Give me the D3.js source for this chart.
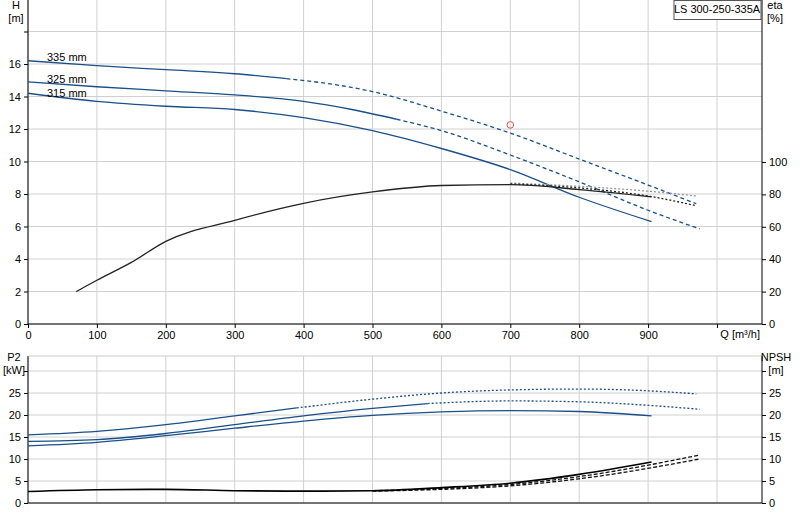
<!DOCTYPE html><html><head><meta charset="utf-8"><script src="https://cdn.jsdelivr.net/npm/d3@7"></script>
<style>body{margin:0;background:#fff}text{font-family:"Liberation Sans",Arial,sans-serif;font-size:11px;fill:#000}</style></head><body><svg id="c" width="800" height="520"></svg><script>
const qTicks=[0,100,200,300,400,500,600,700,800,900];
const hTicks=[0,2,4,6,8,10,12,14,16];
const etaTicks=[0,20,40,60,80,100];
const pTicks=[0,5,10,15,20,25];
const h335=[[0,16.2],[100,15.9],[200,15.65],[300,15.4],[375,15.1]];
const h335d=[[375,15.1],[450,14.7],[500,14.3],[600,13.1],[700,11.75],[800,10.15],[900,8.55],[970,7.4]];
const h325=[[0,14.9],[100,14.6],[200,14.35],[300,14.1],[400,13.7],[470,13.2],[535,12.6]];
const h325d=[[535,12.6],[600,11.9],[700,10.4],[800,8.75],[900,7.0],[975,5.85]];
const h315=[[0,14.2],[100,13.7],[200,13.4],[300,13.2],[400,12.7],[500,11.9],[600,10.8],[700,9.5],[800,7.8],[905,6.3]];
const eta315=[[70,20],[100,27],[150,38],[200,51],[300,64],[400,74.5],[500,81.5],[600,85.5],[700,86],[800,83],[905,78.5]];
const eta325d=[[700,86.5],[800,84],[900,79],[970,73]];
const eta335d=[[700,87],[800,85],[900,82],[970,79]];
const p335=[[0,15.5],[100,16.3],[200,17.8],[300,19.8],[390,21.6]];
const p335d=[[390,21.6],[500,23.6],[600,25.0],[700,25.7],[800,25.9],[900,25.5],[970,24.8]];
const p325=[[0,14.0],[100,14.4],[200,15.8],[300,17.8],[400,19.8],[500,21.5],[580,22.6]];
const p325d=[[580,22.6],[700,23.2],[800,23.0],[900,22.2],[975,21.3]];
const p315=[[0,13.0],[100,13.8],[200,15.3],[300,17.0],[400,18.6],[500,19.9],[600,20.7],[700,21.0],[800,20.8],[905,19.8]];
const npsh315=[[0,2.6],[100,3.0],[200,3.1],[300,2.8],[400,2.7],[500,2.8],[600,3.5],[700,4.5],[800,6.5],[905,9.3]];
const npsh325d=[[500,2.8],[600,3.3],[700,4.2],[800,6.0],[975,10.9]];
const npsh335d=[[500,2.7],[600,3.1],[700,3.9],[800,5.5],[975,10.0]];
const redPt=[700,12.25];
const svg=d3.select("#c");
const x=d3.scaleLinear().domain([0,1000]).range([28,717]);
const XR=762;
const yH=d3.scaleLinear().domain([0,16]).range([324,64]);
const yE=d3.scaleLinear().domain([0,100]).range([324,162]);
const yP=d3.scaleLinear().domain([0,25]).range([503,393]);
const grid="#d0d0d0";
[...qTicks,1000].forEach(q=>svg.append("line").attr("x1",x(q)).attr("x2",x(q)).attr("y1",0).attr("y2",324).attr("stroke",grid));
[...hTicks,18].forEach(h=>svg.append("line").attr("x1",28).attr("x2",XR).attr("y1",yH(h)).attr("y2",yH(h)).attr("stroke",grid));
[...qTicks,1000].forEach(q=>svg.append("line").attr("x1",x(q)).attr("x2",x(q)).attr("y1",356).attr("y2",503).attr("stroke",grid));
[...pTicks,30].forEach(p=>svg.append("line").attr("x1",28).attr("x2",XR).attr("y1",yP(p)).attr("y2",yP(p)).attr("stroke",grid));
svg.append("g").attr("transform","translate(28,0)").call(d3.axisLeft(yH).tickValues([...hTicks,18]).tickSize(4).tickFormat(d=>d==18?"":d)).call(g=>g.select(".domain").attr("d","M0,0V324"));
svg.append("g").attr("transform",`translate(${XR},0)`).call(d3.axisRight(yE).tickValues(etaTicks).tickSize(4)).call(g=>g.select(".domain").attr("d","M0,0V324"));
svg.append("g").attr("transform","translate(0,324)").call(d3.axisBottom(x).tickValues([...qTicks,1000]).tickSize(4).tickFormat(d=>d==1000?"":d)).call(g=>g.select(".domain").attr("d",`M28,0H${XR}`));
svg.append("g").attr("transform","translate(28,0)").call(d3.axisLeft(yP).tickValues([...pTicks,30]).tickSize(4).tickFormat(d=>d==30?"":d)).call(g=>g.select(".domain").attr("d","M0,356V503"));
svg.append("g").attr("transform",`translate(${XR},0)`).call(d3.axisRight(yP).tickValues([...pTicks,30]).tickSize(4).tickFormat(d=>d==30?"":d)).call(g=>g.select(".domain").attr("d","M0,356V503"));
svg.append("g").attr("transform","translate(0,503)").call(d3.axisBottom(x).tickValues([]).tickSize(0)).call(g=>g.select(".domain").attr("d",`M28,0H${XR}`));
svg.append("line").attr("x1",28).attr("x2",XR).attr("y1",356).attr("y2",356).attr("stroke","#ccc");
svg.selectAll(".tick text").style("font-size","11px");
const blue="#1a4f8a";
function draw(data,yS,col,dash,w){svg.append("path").attr("d",d3.line().x(d=>x(d[0])).y(d=>yS(d[1])).curve(d3.curveMonotoneX)(data)).attr("fill","none").attr("stroke",col).attr("stroke-width",w||1.3).attr("stroke-dasharray",dash||null);}
draw(h335,yH,blue);draw(h335d,yH,blue,"4,3");
draw(h325,yH,blue);draw(h325d,yH,blue,"4,3");
draw(h315,yH,blue);
draw(eta335d,yE,"#999","2,2");draw(eta325d,yE,"#222","2,2");draw(eta315,yE,"#222");
draw(p335,yP,blue);draw(p335d,yP,blue,"2,2");
draw(p325,yP,blue);draw(p325d,yP,blue,"2,2");
draw(p315,yP,blue);
draw(npsh335d,yP,"#111","4,2");draw(npsh325d,yP,"#111","4,2");draw(npsh315,yP,"#000",null,1.6);
svg.append("circle").attr("cx",x(redPt[0])).attr("cy",yH(redPt[1])).attr("r",3.3).attr("fill","none").attr("stroke","#e05050");
const t=(s,xx,yy,a)=>svg.append("text").attr("x",xx).attr("y",yy).attr("text-anchor",a||"start").text(s);
t("335 mm",47,61);t("325 mm",47,83);t("315 mm",47,97);
t("H",16,9,"middle");t("[m]",16,22,"middle");
t("eta",775,9,"middle");t("[%]",775,22,"middle");
t("Q [m³/h]",760,338,"end");
t("P2",14,361,"middle");t("[kW]",14,374,"middle");
t("NPSH",776,361,"middle");t("[m]",776,374,"middle");
svg.append("rect").attr("x",674).attr("y",0.5).attr("width",87).attr("height",19).attr("fill","#fff").attr("stroke","#555");
t("LS 300-250-335A",717,13,"middle");
</script></body></html>
